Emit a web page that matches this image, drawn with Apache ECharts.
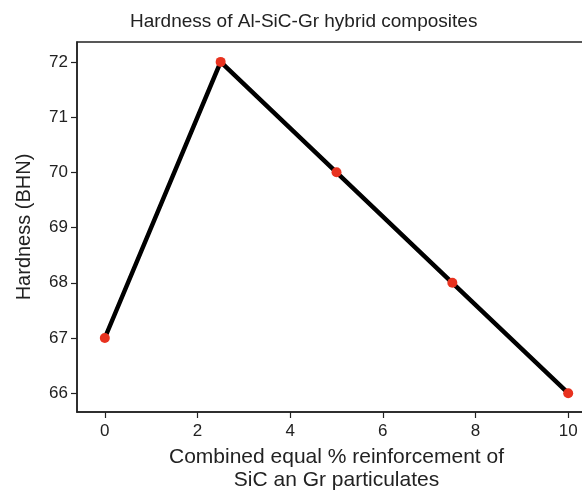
<!DOCTYPE html>
<html>
<head>
<meta charset="utf-8">
<script src="https://cdn.jsdelivr.net/npm/echarts@6/dist/echarts.min.js"></script>
<style>
  html, body { margin: 0; padding: 0; background: #fff; }
  #chart { width: 582px; height: 490px; }
</style>
</head>
<body>
<div id="chart"></div>
<script>
  // reinforcement % (SiC + Gr, equal parts) vs hardness
  const reinforcement = [0, 2.5, 5, 7.5, 10];
  const hardness = [67, 72, 70, 68, 66];
  const xTicks = [0, 2, 4, 6, 8, 10];
  const yTicks = [66, 67, 68, 69, 70, 71, 72];

  const font = 'Liberation Sans, Arial, Helvetica, sans-serif';
  const myChart = echarts.init(document.getElementById('chart'));

  myChart.setOption({
    backgroundColor: '#fff',
    animation: false,
    title: {
      text: 'Hardness of Al-SiC-Gr hybrid composites',
      left: 125,
      top: 7,
      textStyle: { color: '#222', fontSize: 19, fontWeight: 'normal', fontFamily: font }
    },
    grid: {
      left: 77,
      top: 42,
      height: 370,
      width: 519,
      outerBoundsMode: 'none',
      containLabel: false,
      show: true,
      borderColor: '#222',
      borderWidth: 1.5
    },
    xAxis: {
      type: 'value',
      min: -0.6,
      max: 10.6,
      name: 'Combined equal % reinforcement of\nSiC an Gr particulates',
      nameLocation: 'middle',
      nameGap: 34,
      nameTextStyle: { color: '#222', fontSize: 21, fontFamily: font, lineHeight: 23 },
      splitLine: { show: false },
      axisLine: { show: true, onZero: false, lineStyle: { color: '#222', width: 1.5 } },
      axisTick: { show: true, length: 6, lineStyle: { color: '#222', width: 1.2 }, customValues: xTicks },
      axisLabel: { color: '#222', fontSize: 17, fontFamily: font, margin: 11, customValues: xTicks }
    },
    yAxis: {
      type: 'value',
      min: 65.66,
      max: 72.36,
      name: 'Hardness (BHN)',
      nameLocation: 'middle',
      nameGap: 43,
      nameTextStyle: { color: '#222', fontSize: 20, fontFamily: font },
      splitLine: { show: false },
      axisLine: { show: true, onZero: false, lineStyle: { color: '#222', width: 1.5 } },
      axisTick: { show: true, length: 6, lineStyle: { color: '#222', width: 1.2 }, customValues: yTicks },
      axisLabel: { color: '#222', fontSize: 17, fontFamily: font, margin: 9, customValues: yTicks }
    },
    series: [
      {
        type: 'line',
        data: reinforcement.map(function (x, i) { return [x, hardness[i]]; }),
        lineStyle: { color: '#000', width: 4.5 },
        symbol: 'circle',
        symbolSize: 10,
        itemStyle: { color: '#e8321f' },
        z: 3
      }
    ]
  });
</script>
</body>
</html>
